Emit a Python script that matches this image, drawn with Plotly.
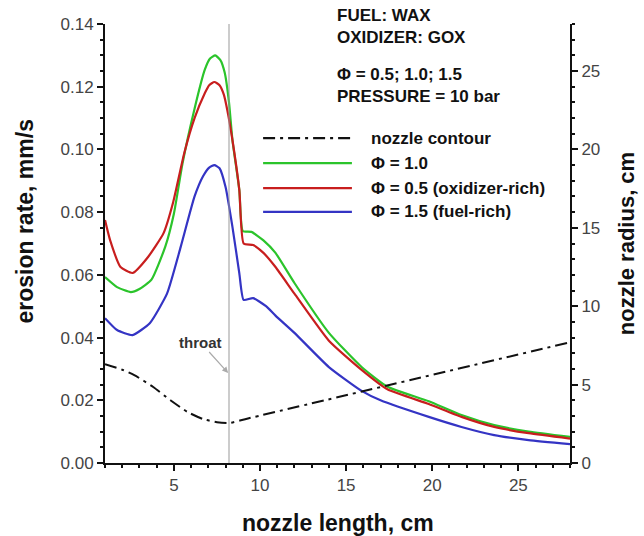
import plotly.graph_objects as go

# ---------------- data ----------------
x_green = [1.0, 1.7, 2.5, 3.0, 3.7, 4.5, 5.0, 5.5, 6.2, 6.8, 7.1, 7.4, 7.7, 7.95, 8.2, 8.4, 8.8, 9.0,
           9.5, 10.2, 10.9, 12.0, 14.0, 15.9, 17.4, 19.8, 21.7, 23.6, 25.6, 28.0]
y_green = [0.0593, 0.0561, 0.0545, 0.0555, 0.0585, 0.069, 0.0795, 0.0955, 0.113, 0.1255, 0.1290, 0.1300,
           0.1285, 0.1245, 0.115, 0.103, 0.087, 0.0740, 0.0737, 0.071, 0.067, 0.0574, 0.0415, 0.0306,
           0.0243, 0.0197, 0.0153, 0.0121, 0.0100, 0.0083]

x_red = [1.0, 1.3, 1.9, 2.6, 3.5, 4.4, 4.95, 5.6, 6.2, 6.8, 7.05, 7.35, 7.65, 7.9, 8.1, 8.4, 8.8, 9.05,
         9.6, 10.2, 10.9, 12.0, 14.0, 15.9, 17.4, 19.8, 21.7, 23.6, 25.6, 28.0]
y_red = [0.0775, 0.071, 0.0625, 0.0606, 0.0657, 0.0733, 0.083, 0.0988, 0.110, 0.118, 0.1205, 0.1215,
         0.1205, 0.1175, 0.1126, 0.103, 0.087, 0.070, 0.0695, 0.067, 0.0625, 0.054, 0.039, 0.0297,
         0.0235, 0.0188, 0.0147, 0.0115, 0.0095, 0.0078]

x_blue = [1.0, 1.7, 2.6, 3.6, 4.6, 5.4, 6.2, 6.7, 7.05, 7.35, 7.65, 8.0, 8.4, 8.8, 9.05, 9.6, 10.35,
          10.9, 12.0, 14.0, 15.9, 17.0, 19.8, 21.7, 23.6, 25.6, 28.0]
y_blue = [0.0462, 0.0424, 0.0408, 0.0446, 0.054, 0.069, 0.085, 0.0915, 0.0942, 0.095, 0.0940, 0.088,
          0.0753, 0.0605, 0.052, 0.0526, 0.050, 0.047, 0.0415, 0.0306, 0.023, 0.020, 0.0147,
          0.0115, 0.0089, 0.0073, 0.006]

x_nozzle = [1.0, 2.0, 2.7, 3.8, 4.8, 5.8, 6.7, 7.5, 8.2, 9.3, 28.0]
r_nozzle = [6.3, 5.95, 5.6, 4.85, 4.0, 3.25, 2.8, 2.6, 2.55, 2.84, 7.7]

throat_x = 8.2

legend_labels = ["nozzle contour", "Φ = 1.0", "Φ = 0.5 (oxidizer-rich)", "Φ = 1.5 (fuel-rich)"]
info_lines = ["FUEL: WAX", "OXIDIZER: GOX", "Φ = 0.5; 1.0; 1.5", "PRESSURE = 10 bar"]

# ---------------- styles ----------------
C_GREEN = "#2bc42b"
C_RED = "#c81e1e"
C_BLUE = "#3434c4"
C_BLACK = "#111111"
DASHDOT = "12px,5px,3px,5px"
FONT = "Liberation Sans, Arial, sans-serif"

fig = go.Figure()
fig.add_trace(go.Scatter(x=x_nozzle, y=r_nozzle, mode="lines", yaxis="y2",
                         line=dict(color=C_BLACK, width=2, dash=DASHDOT, shape="spline", smoothing=0.6),
                         name=legend_labels[0], showlegend=False))
fig.add_trace(go.Scatter(x=x_green, y=y_green, mode="lines",
                         line=dict(color=C_GREEN, width=2.2, shape="spline", smoothing=0.5),
                         name=legend_labels[1], showlegend=False))
fig.add_trace(go.Scatter(x=x_red, y=y_red, mode="lines",
                         line=dict(color=C_RED, width=2.2, shape="spline", smoothing=0.5),
                         name=legend_labels[2], showlegend=False))
fig.add_trace(go.Scatter(x=x_blue, y=y_blue, mode="lines",
                         line=dict(color=C_BLUE, width=2.2, shape="spline", smoothing=0.5),
                         name=legend_labels[3], showlegend=False))

# throat line
fig.add_shape(type="line", xref="x", yref="paper", x0=throat_x, x1=throat_x, y0=0, y1=1,
              line=dict(color="#999999", width=1))

# custom legend (long line samples like the reference)
leg_colors = [C_BLACK, C_GREEN, C_RED, C_BLUE]
leg_dash = [DASHDOT, "solid", "solid", "solid"]
leg_y = [0.740, 0.683, 0.626, 0.572]
for lab, col, dsh, yy in zip(legend_labels, leg_colors, leg_dash, leg_y):
    fig.add_shape(type="line", xref="paper", yref="paper", x0=0.340, x1=0.531, y0=yy, y1=yy,
                  line=dict(color=col, width=2.2, dash=dsh))
    fig.add_annotation(xref="paper", yref="paper", x=0.568, y=yy, text=lab, showarrow=False,
                       xanchor="left", yanchor="middle",
                       font=dict(family=FONT, size=17, color=C_BLACK, weight="bold"))

info_y = [1.0205, 0.970, 0.884, 0.834]
for t, yy in zip(info_lines, info_y):
    fig.add_annotation(xref="paper", yref="paper", x=0.495, y=yy, text=t, showarrow=False,
                       xanchor="left", yanchor="middle",
                       font=dict(family=FONT, size=17, color=C_BLACK, weight="bold"))

# throat label with arrow
fig.add_annotation(x=throat_x - 0.05, y=0.0287, xref="x", yref="y", text="throat",
                   showarrow=True, arrowhead=2, arrowsize=1, arrowwidth=1.2, arrowcolor="#aaaaaa",
                   ax=-28, ay=-31, font=dict(family=FONT, size=15, color="#333333", weight="bold"))

# axis titles
title_font = dict(family=FONT, size=23, color=C_BLACK, weight="bold")
fig.add_annotation(xref="paper", yref="paper", x=0.5, y=-0.137, text="nozzle length, cm",
                   showarrow=False, xanchor="center", yanchor="middle", font=title_font)
fig.add_annotation(xref="paper", yref="paper", x=-0.172, y=0.55, text="erosion rate, mm/s",
                   showarrow=False, textangle=-90, xanchor="center", yanchor="middle", font=title_font)
fig.add_annotation(xref="paper", yref="paper", x=1.122, y=0.50, text="nozzle radius, cm",
                   showarrow=False, textangle=-90, xanchor="center", yanchor="middle",
                   font=dict(family=FONT, size=22, color=C_BLACK, weight="bold"))

tick_font = dict(family=FONT, size=17, color="#444444")
axis_common = dict(showline=True, linecolor=C_BLACK, linewidth=2, showgrid=False, zeroline=False,
                   ticks="outside", ticklen=6, tickwidth=1.5, tickcolor=C_BLACK, tickfont=tick_font)

fig.update_layout(
    width=644, height=536,
    margin=dict(l=105, r=74, t=24, b=73),
    paper_bgcolor="white", plot_bgcolor="white",
    showlegend=False,
    xaxis=dict(range=[1, 28], tickvals=[5, 10, 15, 20, 25],
               minor=dict(dtick=1, tick0=0, ticks="outside", ticklen=3, tickcolor=C_BLACK),
               **axis_common),
    yaxis=dict(range=[0, 0.14], dtick=0.02, tickformat=".2f",
               minor=dict(dtick=0.005, ticks="outside", ticklen=3, tickcolor=C_BLACK),
               **axis_common),
    yaxis2=dict(range=[0, 28], dtick=5, overlaying="y", side="right", anchor="x",
                minor=dict(dtick=1, ticks="outside", ticklen=3, tickcolor=C_BLACK),
                **axis_common),
)

# remove the default page margin so the 644x536 figure fills the window exactly
fig.write_html("out.html", config={"displayModeBar": False},
               post_script="document.body.style.margin='0';")
